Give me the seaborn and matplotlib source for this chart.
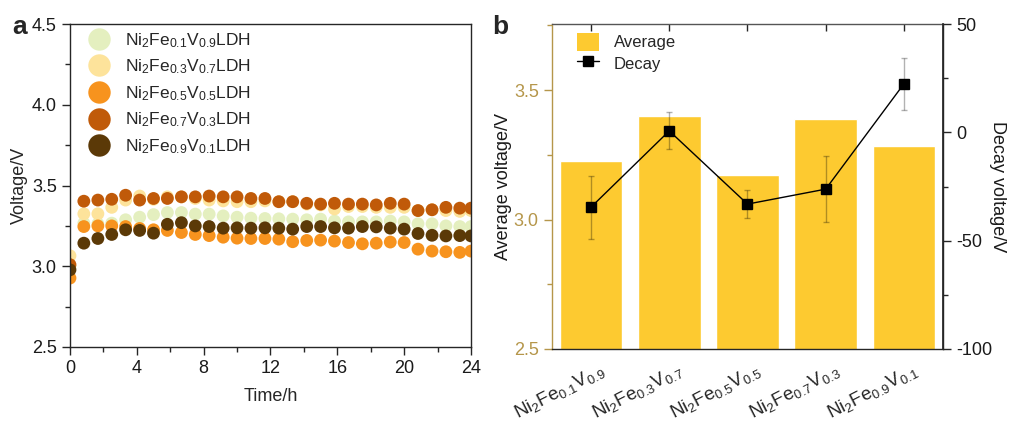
import numpy as np
import pandas as pd
import matplotlib
matplotlib.use("Agg")
import matplotlib.pyplot as plt
import matplotlib.transforms as mtransforms
import seaborn as sns
from matplotlib.ticker import MultipleLocator
from matplotlib.patches import Patch
from matplotlib.lines import Line2D

# ---------------- data ----------------
time_h = [0.0, 0.83, 1.67, 2.5, 3.33, 4.17, 5.0, 5.83, 6.67, 7.5, 8.33, 9.17, 10.0,
          10.83, 11.67, 12.5, 13.33, 14.17, 15.0, 15.83, 16.67, 17.5, 18.33, 19.17,
          20.0, 20.83, 21.67, 22.5, 23.33, 24.0]

v_fe01 = [3.00, 3.267, 3.263, 3.267, 3.288, 3.304, 3.32, 3.333, 3.333, 3.323, 3.323,
          3.312, 3.304, 3.298, 3.296, 3.294, 3.292, 3.288, 3.292, 3.28, 3.275, 3.275,
          3.275, 3.28, 3.275, 3.263, 3.263, 3.25, 3.246, 3.246]
v_fe03 = [3.065, 3.325, 3.325, 3.365, 3.41, 3.435, 3.415, 3.43, 3.43, 3.42, 3.41,
          3.405, 3.40, 3.40, 3.405, 3.40, 3.40, 3.385, 3.38, 3.355, 3.37, 3.37,
          3.365, 3.365, 3.365, 3.345, 3.35, 3.345, 3.34, 3.345]
v_fe05 = [2.927, 3.246, 3.25, 3.25, 3.246, 3.234, 3.226, 3.222, 3.209, 3.197, 3.19,
          3.18, 3.174, 3.172, 3.172, 3.168, 3.152, 3.16, 3.162, 3.156, 3.147, 3.139,
          3.143, 3.15, 3.147, 3.106, 3.094, 3.09, 3.086, 3.094]
v_fe07 = [3.01, 3.403, 3.41, 3.415, 3.44, 3.41, 3.42, 3.42, 3.43, 3.43, 3.435,
          3.43, 3.43, 3.42, 3.42, 3.40, 3.40, 3.39, 3.385, 3.39, 3.385, 3.385,
          3.38, 3.39, 3.385, 3.345, 3.35, 3.365, 3.36, 3.36]
v_fe09 = [2.978, 3.143, 3.172, 3.197, 3.226, 3.222, 3.205, 3.26, 3.27, 3.25, 3.246,
          3.236, 3.238, 3.236, 3.238, 3.236, 3.23, 3.246, 3.246, 3.238, 3.236, 3.246,
          3.244, 3.236, 3.23, 3.203, 3.192, 3.188, 3.19, 3.188]

series_labels = [r'Ni$_2$Fe$_{0.1}$V$_{0.9}$LDH', r'Ni$_2$Fe$_{0.3}$V$_{0.7}$LDH',
                 r'Ni$_2$Fe$_{0.5}$V$_{0.5}$LDH', r'Ni$_2$Fe$_{0.7}$V$_{0.3}$LDH',
                 r'Ni$_2$Fe$_{0.9}$V$_{0.1}$LDH']
series_colors = ['#e4efbf', '#fde39b', '#f7931e', '#c05a09', '#5b3907']

categories = [r'Ni$_2$Fe$_{0.1}$V$_{0.9}$', r'Ni$_2$Fe$_{0.3}$V$_{0.7}$',
              r'Ni$_2$Fe$_{0.5}$V$_{0.5}$', r'Ni$_2$Fe$_{0.7}$V$_{0.3}$',
              r'Ni$_2$Fe$_{0.9}$V$_{0.1}$']
avg_voltage = [3.227, 3.40, 3.172, 3.387, 3.285]
decay_voltage = [-34.5, 0.7, -33.1, -26.2, 22.4]
decay_err = [14.5, 8.5, 6.6, 15.3, 12.1]

# ---------------- style ----------------
sns.set_theme(style="ticks")
plt.rcParams['font.family'] = ['Liberation Sans', 'DejaVu Sans']
plt.rcParams['mathtext.fontset'] = 'custom'
plt.rcParams['mathtext.rm'] = 'Liberation Sans'
plt.rcParams['mathtext.it'] = 'Liberation Sans:italic'
plt.rcParams['mathtext.bf'] = 'Liberation Sans:bold'
plt.rcParams['mathtext.default'] = 'regular'
plt.rcParams['axes.unicode_minus'] = False

dark = '#262626'
gold = '#b5964a'
bar_color = '#fdca30'

fig = plt.figure(figsize=(10.29, 4.23), dpi=100)

# ---------------- panel a ----------------
ax1 = fig.add_axes([0.068, 0.1797, 0.3897, 0.7633])
frames = []
for lab, vals in zip(series_labels, [v_fe01, v_fe03, v_fe05, v_fe07, v_fe09]):
    frames.append(pd.DataFrame({'time': time_h, 'voltage': vals, 'sample': lab}))
df_a = pd.concat(frames, ignore_index=True)

sns.scatterplot(data=df_a, x='time', y='voltage', hue='sample',
                hue_order=series_labels, palette=series_colors,
                s=85, linewidth=0, alpha=1, ax=ax1, legend=True)

ax1.set_xlim(0, 24)
ax1.set_ylim(2.5, 4.5)
ax1.xaxis.set_major_locator(MultipleLocator(4))
ax1.xaxis.set_minor_locator(MultipleLocator(2))
ax1.yaxis.set_major_locator(MultipleLocator(0.5))
ax1.yaxis.set_minor_locator(MultipleLocator(0.25))
ax1.yaxis.set_major_formatter(matplotlib.ticker.FormatStrFormatter('%.1f'))
ax1.tick_params(which='major', direction='out', length=6, width=1, labelsize=13, color=dark,
                labelcolor='#1a1a1a')
ax1.tick_params(which='minor', direction='out', length=3.5, width=1, color=dark)
for sp in ax1.spines.values():
    sp.set_visible(True)
    sp.set_color(dark)
    sp.set_linewidth(1)
ax1.set_xlabel('Time/h', fontsize=13, labelpad=8)
ax1.set_ylabel('Voltage/V', fontsize=13, labelpad=3)
leg = ax1.legend(loc='upper left', frameon=False, fontsize=12.5, markerscale=1.75,
                 handletextpad=0.5, labelspacing=0.45, borderaxespad=0.0,
                 bbox_to_anchor=(0.012, 1.0))
fig.text(0.012, 0.935, 'a', fontsize=19, fontweight='bold', va='center', ha='left')

# ---------------- panel b ----------------
ax2 = fig.add_axes([0.5364, 0.175, 0.38, 0.768])
sns.barplot(x=categories, y=avg_voltage, color=bar_color, saturation=1,
            width=0.8, ax=ax2, errorbar=None)
ax2.set_xlim(-0.5, 4.5)
ax2.set_ylim(2.5, 3.755)
ax2.yaxis.set_major_locator(MultipleLocator(0.5))
ax2.yaxis.set_minor_locator(MultipleLocator(0.25))
ax2.yaxis.set_major_formatter(matplotlib.ticker.FormatStrFormatter('%.1f'))
ax2.tick_params(axis='y', which='major', direction='out', length=6, width=1,
                labelsize=13, color=gold, labelcolor=gold)
ax2.tick_params(axis='y', which='minor', direction='out', length=3.5, width=1, color=gold)
ax2.tick_params(axis='x', which='major', direction='in', top=True, bottom=False,
                labeltop=False, labelbottom=True, length=5, width=1, color=dark,
                labelsize=13.5, pad=8)
ax2.set_xticks(range(len(categories)))
ax2.set_xticklabels(categories, rotation=27, ha='right', rotation_mode='anchor')
offset = mtransforms.ScaledTranslation(8 / 100, 0, fig.dpi_scale_trans)
for lbl in ax2.get_xticklabels():
    lbl.set_transform(lbl.get_transform() + offset)
for sp in ax2.spines.values():
    sp.set_visible(True)
    sp.set_color(dark)
    sp.set_linewidth(1)
ax2.spines['left'].set_color(gold)
ax2.spines['top'].set_color('#555555')
ax2.set_xlabel('')
ax2.set_ylabel('Average voltage/V', fontsize=13, labelpad=1, color='#1a1a1a')

ax3 = ax2.twinx()
xpos = np.arange(len(categories))
ax3.errorbar(xpos, decay_voltage, yerr=decay_err, color='black', lw=1, marker='s',
             markersize=6.5, ecolor=(0.0, 0.0, 0.0, 0.3), elinewidth=1, capsize=2.5,
             capthick=1, zorder=3)
ax3.set_ylim(-100, 50)
ax3.yaxis.set_major_locator(MultipleLocator(50))
ax3.yaxis.set_minor_locator(MultipleLocator(25))
ax3.tick_params(axis='y', which='major', direction='out', length=6, width=1,
                labelsize=13, color=dark, labelcolor='#1a1a1a')
ax3.tick_params(axis='y', which='minor', direction='out', length=3.5, width=1, color=dark)
for sp in ax3.spines.values():
    sp.set_visible(False)
ax3.spines['right'].set_visible(True)
ax3.spines['right'].set_color(dark)
ax3.set_ylabel('Decay voltage/V', fontsize=13, rotation=270, labelpad=10, color='#1a1a1a')

handles = [Patch(facecolor=bar_color, edgecolor='none'),
           Line2D([0], [0], color='black', lw=1, marker='s', markersize=6.5)]
ax3.legend(handles, ['Average', 'Decay'], loc='upper left', frameon=False, fontsize=12,
           handlelength=1.3, handleheight=1.3, handletextpad=0.9, labelspacing=0.2,
           bbox_to_anchor=(0.035, 1.01), borderaxespad=0.3)
fig.text(0.478, 0.935, 'b', fontsize=19, fontweight='bold', va='center', ha='left')

fig.savefig('out.png', dpi=100)
